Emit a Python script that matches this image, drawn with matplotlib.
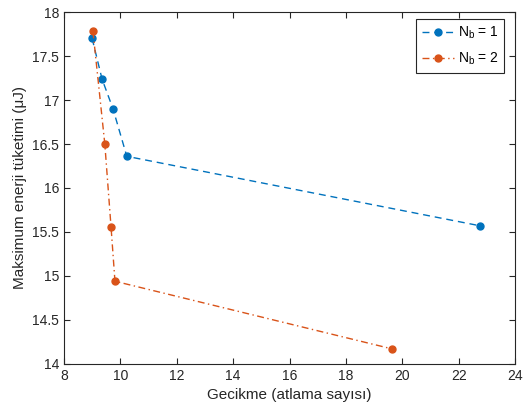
import matplotlib
matplotlib.use("Agg")
import matplotlib.pyplot as plt

# Nb = 1
x1 = [9.0, 9.35, 9.74, 10.23, 22.76]
y1 = [17.70, 17.24, 16.90, 16.36, 15.57]
# Nb = 2
x2 = [9.03, 9.45, 9.67, 9.81, 19.65]
y2 = [17.78, 16.50, 15.56, 14.94, 14.17]

xticks = list(range(8, 25, 2))
yticks = [14, 14.5, 15, 15.5, 16, 16.5, 17, 17.5, 18]

plt.rcParams['font.family'] = ['Liberation Sans', 'DejaVu Sans']
fig = plt.figure(figsize=(5.24, 4.15), dpi=100)
ax = fig.add_axes([0.122, 0.123, 0.861, 0.848])

ax.plot(x1, y1, '--o', color='#0072BD', lw=1, ms=5, dashes=(5, 3.5),
        label=r'N$_\mathregular{b}$ = 1')
ax.plot(x2, y2, '-.o', color='#D95319', lw=1, ms=5, dashes=(5, 2.5, 1, 2.5),
        label=r'N$_\mathregular{b}$ = 2')

ax.set_xlim(8, 24)
ax.set_ylim(14, 18)
ax.set_xticks(xticks)
ax.set_yticks(yticks)
ax.set_yticklabels(['14', '14.5', '15', '15.5', '16', '16.5', '17', '17.5', '18'])
ax.tick_params(direction='in', top=True, right=True, labelsize=10, length=4, width=0.8, colors='#262626')
for s in ax.spines.values():
    s.set_color('#262626')
    s.set_linewidth(0.8)

ax.set_xlabel('Gecikme (atlama sayısı)', fontsize=11, color='#262626')
ax.set_ylabel('Maksimum enerji tüketimi (μJ)', fontsize=11, color='#262626')

leg = ax.legend(loc='upper right', bbox_to_anchor=(0.976, 0.98), borderaxespad=0,
                fontsize=10, fancybox=False, framealpha=1, edgecolor='#262626',
                handlelength=2.3, handletextpad=0.3, labelspacing=0.7)
leg.get_frame().set_linewidth(0.8)

fig.savefig('out.png', dpi=100)
